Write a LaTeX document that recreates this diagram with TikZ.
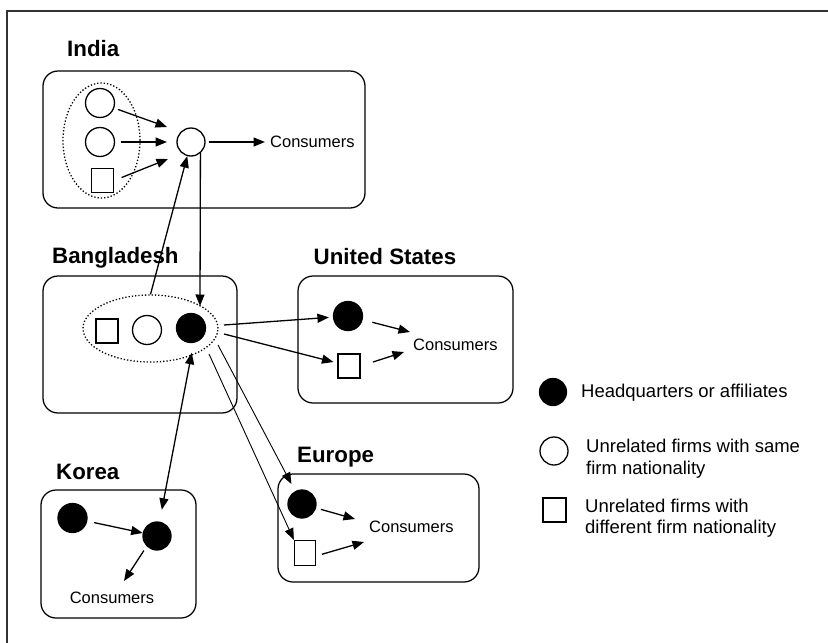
\documentclass[tikz,border=0pt]{standalone}
\usepackage{fontspec}
\setmainfont{Liberation Sans}
\usetikzlibrary{arrows.meta,shapes.geometric,calc}
\begin{document}
\begin{tikzpicture}[x=1pt,y=-1pt,
  region/.style={draw, line width=1.25pt, rounded corners=15pt},
  title/.style={anchor=base west, inner sep=0pt, font=\fontsize{22.3}{25}\selectfont\bfseries},
  cons/.style={anchor=west, inner sep=0pt, font=\fontsize{16.5}{19}\selectfont},
  legtxt/.style={anchor=base west, inner sep=0pt, align=left, font=\fontsize{18.5}{21.5}\selectfont},
  firm/.style={circle, draw, line width=1.3pt, minimum size=29pt, inner sep=0pt},
  hq/.style={firm, fill=black},
  other/.style={rectangle, draw, line width=1.3pt, minimum width=22pt, minimum height=24pt, inner sep=0pt},
  grp/.style={ellipse, draw, dotted, line width=1.3pt, inner sep=0pt},
  arr/.style={-{Triangle[length=11.5pt,width=9pt]}, line width=1.3pt},
  thinarr/.style={-{Triangle[length=11.5pt,width=9pt]}, line width=0.9pt},
  biarr/.style={{Triangle[length=11.5pt,width=9pt]}-{Triangle[length=11.5pt,width=9pt]}, line width=1.3pt},
]
\useasboundingbox (0,0) rectangle (828,643);
% frame
\draw[line width=1.5pt, black!80] (828,11) -- (7,11) -- (7,643);

% ---------- India ----------
\node[title] (tIndia) at (67,56) {India};
\draw[region] (43,71) rectangle (365,208);
\node[grp, minimum width=77pt, minimum height=115pt] (inG) at (101.5,140.5) {};
\node[firm] (inA) at (100,103) {};
\node[firm] (inB) at (100,142) {};
\node[other] (inS) at (102.5,180.5) {};
\node[firm, minimum size=28pt] (inC) at (191,142) {};
\node[cons] (inCons) at (270,142) {Consumers};
\coordinate (inT1) at (167,127);
\coordinate (inT2) at (167,142);
\coordinate (inT3) at (168,159);
\draw[arr, shorten <=4pt] (inA) -- (inT1);
\draw[arr, shorten <=6pt] (inB) -- (inT2);
\draw[arr, shorten <=8pt] (inS.east) -- (inT3);
\draw[arr, shorten <=3pt, shorten >=5pt] (inC) -- (inCons);

% ---------- Bangladesh ----------
\node[title] (tBd) at (52,263) {Bangladesh};
\draw[region] (43,276) rectangle (237,413);
\node[grp, minimum width=135pt, minimum height=67pt] (bdG) at (150.5,328.5) {};
\node[other] (bdS) at (107,331) {};
\node[firm] (bdO) at (147,330) {};
\node[hq] (bdH) at (191,328) {};
\coordinate (bdIn) at (200,306);
\draw[arr] (bdG.north) -- (inC);
\draw[arr] (inC.-50) -- (bdIn);

% ---------- United States ----------
\node[title] (tUs) at (313.5,264) {United States};
\draw[region] (298,276) rectangle (513,403);
\node[hq] (usH) at (348,316) {};
\node[other] (usS) at (349,366) {};
\node[cons] (usCons) at (413,345) {Consumers};
\coordinate (bdO1) at (224,325);
\coordinate (bdO2) at (224,334);
\draw[arr, shorten >=4pt] (bdO1) -- (usH);
\draw[arr, shorten >=4pt] (bdO2) -- (usS);
\coordinate (usT1) at (410,332);
\coordinate (usT2) at (404,352);
\draw[arr, shorten <=10pt] (usH) -- (usT1);
\draw[arr, shorten <=13pt] (usS.east) -- (usT2);

% ---------- Europe ----------
\node[title] (tEu) at (297,462) {Europe};
\draw[region] (278,474) rectangle (479,582);
\node[hq, minimum size=28pt] (euH) at (302,504) {};
\node[other, minimum width=21pt, minimum height=25pt] (euS) at (305,553) {};
\node[cons] (euCons) at (369,527) {Consumers};
\coordinate (euT1) at (355,519);
\coordinate (euT2) at (364,542);
\draw[arr, shorten <=5pt] (euH) -- (euT1);
\draw[arr, shorten <=6pt] (euS.-15) -- (euT2);
\coordinate (bdE1) at (218,345);
\coordinate (bdE2) at (209,354);
\draw[thinarr, shorten >=8pt] (bdE1) -- (euH);
\draw[thinarr] (bdE2) -- (euS.north west);

% ---------- Korea ----------
\node[title] (tKo) at (56,479) {Korea};
\draw[region] (41,490) rectangle (196,618);
\node[hq] (koA) at (72.5,518) {};
\node[hq, minimum size=28pt] (koB) at (157,536) {};
\node[cons, anchor=center] (koCons) at (112,598) {Consumers};
\coordinate (koT) at (124,581);
\draw[arr, shorten <=7pt] (koA) -- (koB);
\draw[arr, shorten <=5pt] (koB.225) -- (koT);
\draw[biarr, shorten <=10pt, shorten >=12pt] (bdH.-80) -- (koB.80);

% ---------- Legend ----------
\node[hq, minimum size=27pt] (lgH) at (553,392) {};
\node[firm, minimum size=28pt] (lgO) at (554,451) {};
\node[other, minimum width=23pt] (lgS) at (554.5,510) {};
\node[legtxt] (lgT1) at (581,397) {Headquarters or affiliates};
\node[legtxt] (lgT2) at (586,474) {Unrelated firms with same\\firm nationality};
\node[legtxt] (lgT3) at (585,533.5) {Unrelated firms with\\different firm nationality};
\end{tikzpicture}
\end{document}
